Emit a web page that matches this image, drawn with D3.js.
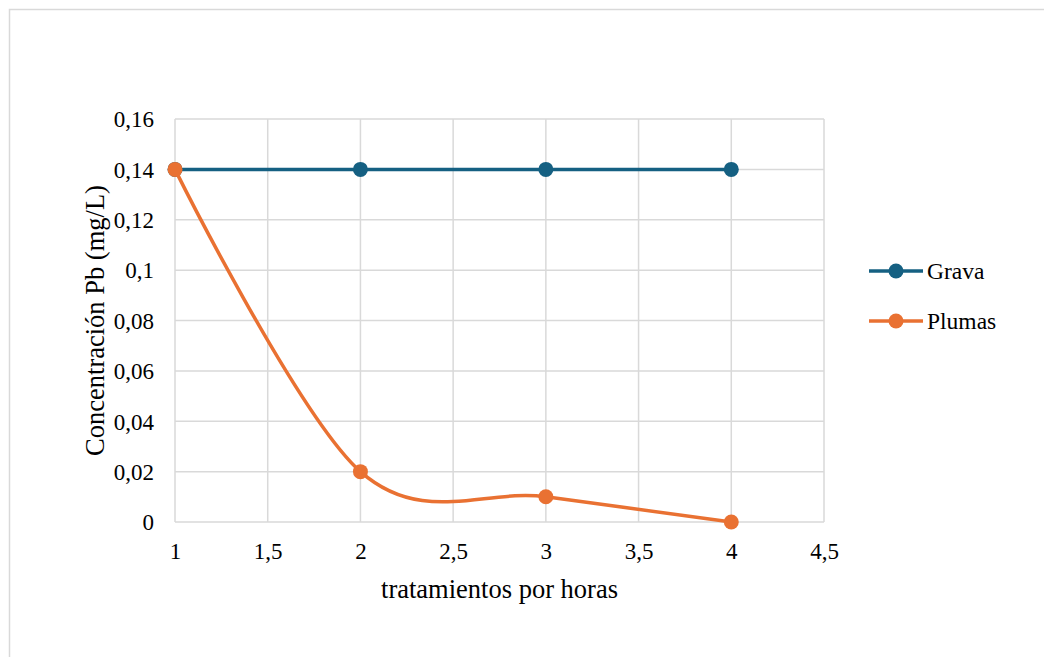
<!DOCTYPE html>
<html>
<head>
<meta charset="utf-8">
<script src="https://cdn.jsdelivr.net/npm/d3@7"></script>
<style>
  body { margin: 0; background: #fff; }
  svg text { font-family: "Liberation Serif", "Times New Roman", serif; fill: #000; }
</style>
</head>
<body>
<script>
// data
const horas = [1, 2, 3, 4];
const grava = [0.14, 0.14, 0.14, 0.14];
const plumas = [0.14, 0.02, 0.01, 0];
const xTicks = [1, 1.5, 2, 2.5, 3, 3.5, 4, 4.5];
const yTicks = [0, 0.02, 0.04, 0.06, 0.08, 0.1, 0.12, 0.14, 0.16];

const series = [
  { name: 'Grava', values: grava, color: '#156082', smooth: false },
  { name: 'Plumas', values: plumas, color: '#E97132', smooth: true },
];

const W = 1044, H = 657;

const svg = d3.select('body').append('svg').attr('width', W).attr('height', H);

// outer chart border (only top/left fall inside the picture)
svg.append('rect')
  .attr('x', 9.5).attr('y', 9.5).attr('width', W).attr('height', H)
  .attr('fill', 'none').attr('stroke', '#d9d9d9').attr('stroke-width', 1.5);

const x = d3.scaleLinear().domain([1, 4.5]).range([175, 824]);
const y = d3.scaleLinear().domain([0, 0.16]).range([522, 119]);

const fmt = (d) => String(+d.toFixed(2)).replace('.', ',');

// gridlines
const grid = svg.append('g').attr('stroke', '#d9d9d9').attr('stroke-width', 1.5);
grid.selectAll('.v').data(xTicks).join('line')
  .attr('x1', (d) => x(d)).attr('x2', (d) => x(d))
  .attr('y1', y(0)).attr('y2', y(0.16));
grid.selectAll('.h').data(yTicks).join('line')
  .attr('x1', x(1)).attr('x2', x(4.5))
  .attr('y1', (d) => y(d)).attr('y2', (d) => y(d));

// axes (labels only, lines are the grid)
const xAxis = svg.append('g').attr('transform', `translate(0,${y(0)})`)
  .call(d3.axisBottom(x).tickValues(xTicks).tickFormat(fmt).tickSize(0));
xAxis.selectAll('text').attr('y', 37).attr('dy', 0);
const yAxis = svg.append('g').attr('transform', `translate(${x(1)},0)`)
  .call(d3.axisLeft(y).tickValues(yTicks).tickFormat(fmt).tickSize(0));
yAxis.selectAll('text').attr('x', -21).attr('dy', '0.34em');
[xAxis, yAxis].forEach((a) => {
  a.select('.domain').remove();
  a.attr('font-family', null);
  a.selectAll('text').style('font-size', '23px').attr('fill', '#000');
});

// axis titles
svg.append('text')
  .attr('x', (x(1) + x(4.5)) / 2).attr('y', 598)
  .attr('text-anchor', 'middle').style('font-size', '26.5px')
  .text('tratamientos por horas');
svg.append('text')
  .attr('transform', `translate(104,${(y(0) + y(0.16)) / 2}) rotate(-90)`)
  .attr('text-anchor', 'middle').style('font-size', '26.5px')
  .text('Concentración Pb (mg/L)');

// lines and markers
series.forEach((s) => {
  const line = d3.line()
    .x((d, i) => x(horas[i]))
    .y((d) => y(d))
    .curve(s.smooth ? d3.curveCatmullRom.alpha(0) : d3.curveLinear);
  svg.append('path').datum(s.values)
    .attr('d', line).attr('fill', 'none')
    .attr('stroke', s.color).attr('stroke-width', 3.5).attr('stroke-linecap', 'round');
  svg.append('g').selectAll('circle').data(s.values).join('circle')
    .attr('cx', (d, i) => x(horas[i])).attr('cy', (d) => y(d))
    .attr('r', 7.5).attr('fill', s.color);
});

// legend
const legend = svg.append('g').selectAll('g').data(series).join('g')
  .attr('transform', (d, i) => `translate(869,${271 + i * 50})`);
legend.append('line')
  .attr('x1', 0).attr('x2', 54).attr('stroke', (d) => d.color).attr('stroke-width', 3.5);
legend.append('circle').attr('cx', 27).attr('r', 7.5).attr('fill', (d) => d.color);
legend.append('text').attr('x', 58).attr('dy', '0.33em')
  .style('font-size', '23.5px').text((d) => d.name);
</script>
</body>
</html>
